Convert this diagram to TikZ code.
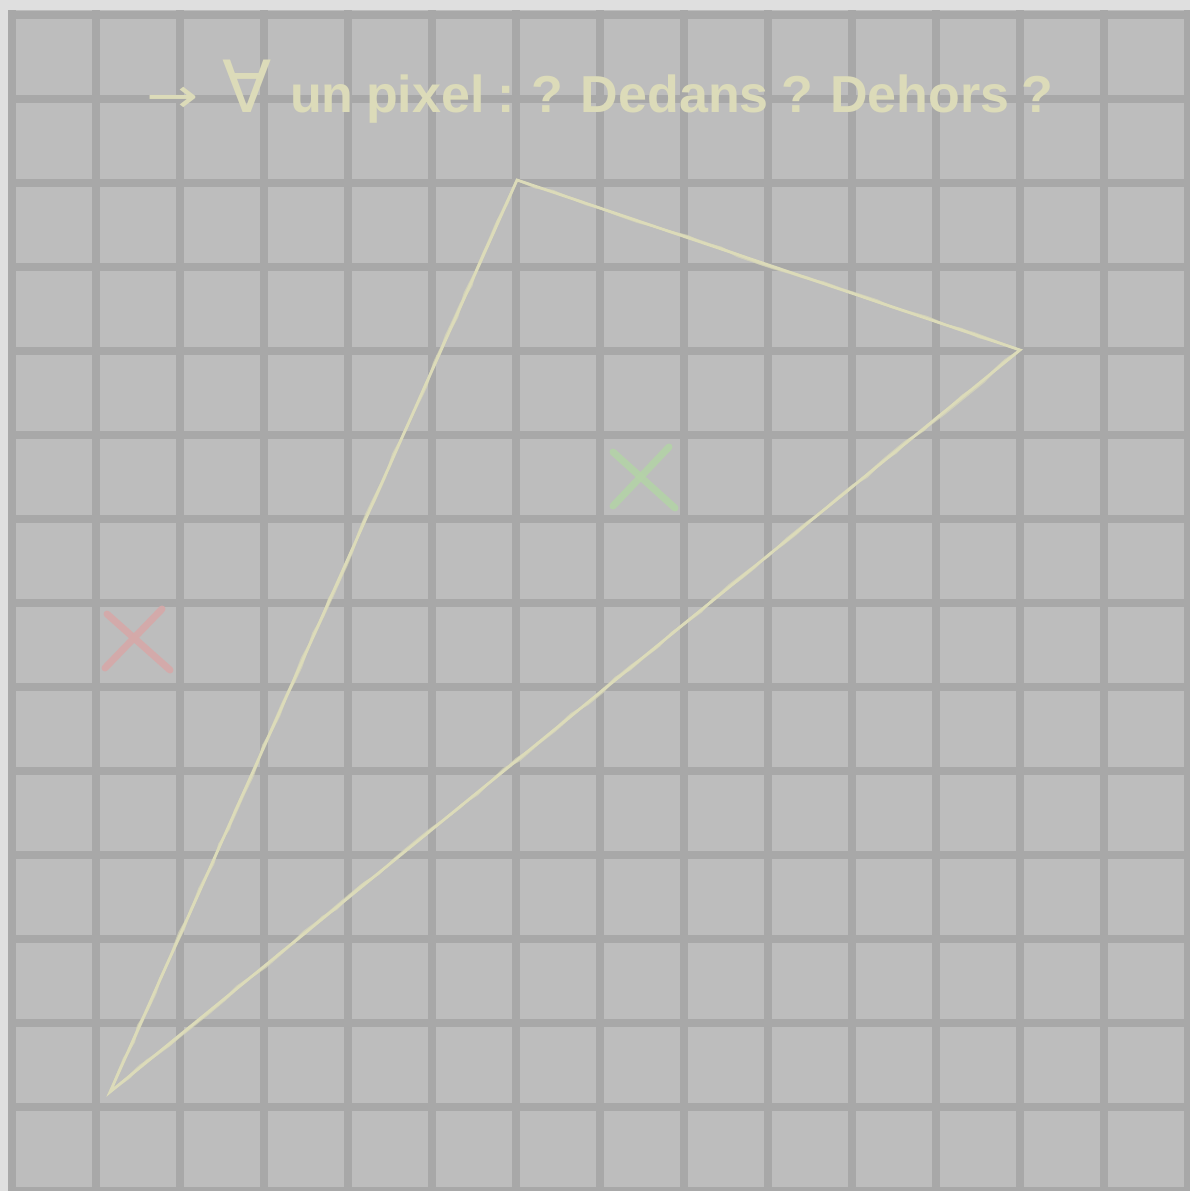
\documentclass[tikz,border=0pt]{standalone}
\usepackage{fontspec}
\setmainfont{Liberation Sans}
\newfontfamily\symfont{DejaVu Sans}
\usetikzlibrary{decorations.pathmorphing}
\definecolor{bgout}{HTML}{DFDFDF}
\definecolor{cellc}{HTML}{BDBDBD}
\definecolor{gridc}{HTML}{A8A8A8}
\definecolor{chalk}{HTML}{DCDBB9}
\definecolor{greenx}{HTML}{B4D3A7}
\definecolor{redx}{HTML}{D6A9A8}
\tikzset{
  gridline/.style={gridc, line width=8pt},
  chalkline/.style={chalk, line width=2.8pt, line cap=round},
  chalkrough/.style={chalk, line width=1.8pt, opacity=0.6, line cap=round,
    decorate, decoration={random steps, segment length=18pt, amplitude=1.8pt}},
  crossline/.style={line width=7pt, line cap=round, opacity=0.9},
  titletext/.style={chalk, font=\fontsize{52}{60}\selectfont\bfseries, anchor=base west, inner sep=0pt}
}
\begin{document}
\begin{tikzpicture}[x=1pt,y=-1pt]
\useasboundingbox (0,0) rectangle (1190,1191);
\fill[bgout] (0,0) rectangle (1190,1191);
\fill[cellc] (9,10) rectangle (1190,1191);
\foreach \i in {0,...,14} {
  \draw[gridline] (12+84*\i,10) -- (12+84*\i,1191);
}
\foreach \j in {0,...,14} {
  \draw[gridline] (9,15+84*\j) -- (1190,15+84*\j);
}
\node[titletext] (title) at (147,112) {\makebox[51pt]{\symfont\mdseries\fontsize{48}{48}\selectfont\scalebox{1.3}[1]{→}}\hspace{24pt}\makebox[50pt]{\symfont\mdseries\fontsize{72}{72}\selectfont ∀}\hspace{18pt}\spaceskip=0.24em un pixel : ? Dedans ? Dehors ?};
\coordinate (A) at (517,180);
\coordinate (B) at (1020,350);
\coordinate (C) at (110,1092);
\draw[chalkline] (A) -- (B) -- (C) -- cycle;
\draw[chalkrough] (A) -- (B) -- (C) -- cycle;
\draw[chalkrough, decoration={random steps, segment length=25pt, amplitude=2pt}] (B) -- (A) -- (C) -- cycle;
\coordinate (g1) at (613,452);
\coordinate (g2) at (675,508);
\coordinate (g3) at (669,447);
\coordinate (g4) at (613,506);
\draw[crossline, greenx] (g1) -- (g2);
\draw[crossline, greenx] (g3) -- (g4);
\coordinate (r1) at (107,614);
\coordinate (r2) at (170,670);
\coordinate (r3) at (162,609);
\coordinate (r4) at (105,668);
\draw[crossline, redx] (r1) -- (r2);
\draw[crossline, redx] (r3) -- (r4);
\end{tikzpicture}
\end{document}
